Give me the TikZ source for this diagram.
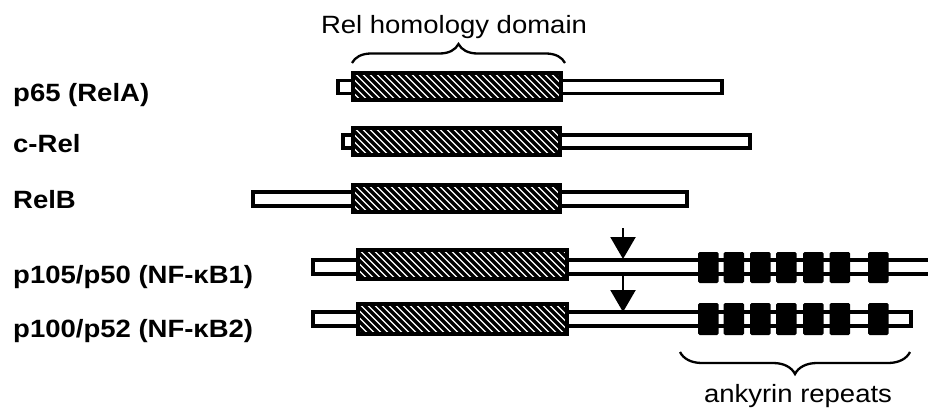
\documentclass[tikz,border=0pt]{standalone}
\usepackage{fontspec}
\setmainfont{Liberation Sans}[FakeStretch=1.1]
\usetikzlibrary{arrows.meta,decorations.pathreplacing}

% x1,y1,x2,y2 : hatched Rel homology domain
\newcommand{\rhdbox}[4]{%
  \begin{scope}
    \clip (#1,#2) rectangle (#3,#4);
    \fill[white] (#1,#2) rectangle (#3,#4);
    \pgfmathsetmacro\hsA{#1-42}\pgfmathsetmacro\hsB{#1-35}
    \foreach \s in {\hsA,\hsB,...,#3}
      \draw[line width=3.4pt] (\s,#2-5) -- ++(48,48);
  \end{scope}
  \draw[outline] (#1,#2) rectangle (#3,#4);
}
% x1,y1,x2,y2 : plain white segment of the protein
\newcommand{\plainbar}[4]{\draw[outline,fill=white] (#1,#2) rectangle (#3,#4);}
% x, y1, y2 : one ankyrin repeat
\newcommand{\ankbox}[3]{\fill[rounded corners=1.5pt] (#1,#2) rectangle (#1+20.5,#3);}

\begin{document}
\begin{tikzpicture}[x=1pt,y=-1pt,
  outline/.style={line width=3.1pt},
  lbl/.style={font=\fontsize{25}{30}\selectfont\bfseries,anchor=base west,inner sep=0pt},
  captext/.style={font=\fontsize{25}{30}\selectfont,anchor=base,inner sep=0pt},
  bracestyle/.style={line width=2.3pt,decorate},
  cleave/.style={line width=2.3pt,-{Triangle[width=25pt,length=22pt]}}]
\useasboundingbox (0,0) rectangle (928,410);
\clip (0,0) rectangle (928,410);

% row labels
\node[lbl] (l65)  at (13,101) {p65 (RelA)};
\node[lbl] (lcrel) at (13,152) {c-Rel};
\node[lbl] (lrelb) at (13,208) {RelB};
\node[lbl] (l105) at (13,283) {p105/p50 (NF-κB1)};
\node[lbl] (l100) at (13,337) {p100/p52 (NF-κB2)};

% p65 (RelA)
\plainbar{338}{80.5}{722}{93.5}
\rhdbox{353}{73}{561}{100}
% c-Rel
\plainbar{343}{135}{750}{148}
\rhdbox{353}{128}{560}{155}
% RelB
\plainbar{253}{192}{687}{206}
\rhdbox{353}{185}{560}{212}
% p105/p50
\plainbar{313}{260}{940}{274}
\rhdbox{358}{250}{567}{279}
\foreach \x in {698,723.5,750,776,803,829.5,868} \ankbox{\x}{252}{283};
% p100/p52
\plainbar{313}{312}{911}{326}
\rhdbox{358}{304}{567}{334}
\foreach \x in {698,723.5,750,776,803,829.5,868} \ankbox{\x}{303}{335};

% processing sites
\coordinate (cutA) at (623,228);
\coordinate (p105top) at (623,259);
\coordinate (p105bot) at (623,275);
\coordinate (p100top) at (623,312);
\draw[cleave] (cutA) -- (p105top);
\draw[cleave] (p105bot) -- (p100top);

% Rel homology domain brace
\coordinate (rhdL) at (352,63);
\coordinate (rhdR) at (565,63);
\draw[bracestyle,decoration={brace,amplitude=19pt}] (rhdL) -- (rhdR);
\node[captext] (rhdtxt) at (454,33) {Rel homology domain};

% ankyrin repeats brace
\coordinate (ankR) at (910,352);
\coordinate (ankL) at (680,352);
\draw[bracestyle,decoration={brace,amplitude=22pt}] (ankR) -- (ankL);
\node[captext] (anktxt) at (798,402) {ankyrin repeats};
\end{tikzpicture}
\end{document}
